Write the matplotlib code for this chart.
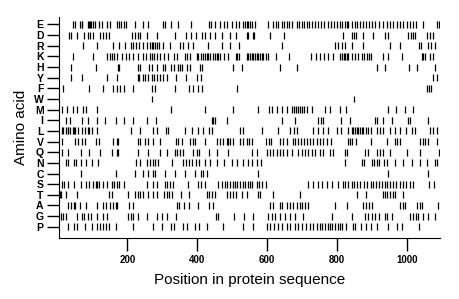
import matplotlib
matplotlib.use("Agg")
import matplotlib.pyplot as plt

plt.rcParams['font.family'] = ['Liberation Sans', 'DejaVu Sans']

# rows from top to bottom
amino_acids = ['E', 'D', 'R', 'K', 'H', 'Y', 'F', 'W', 'M', 'I',
               'L', 'V', 'Q', 'N', 'C', 'S', 'T', 'A', 'G', 'P']

# residue positions of each amino acid
pos_E = [43, 51, 63, 69, 71, 86, 91, 94, 97, 103, 106, 120, 126, 143, 151, 171, 177, 183, 189, 197,
         223, 246, 260, 303, 309, 326, 346, 383, 434, 440, 451, 466, 477, 486, 500, 511, 520, 531,
         537, 543, 546, 551, 557, 566, 603, 617, 626, 631, 643, 649, 657, 663, 671, 686, 691, 700,
         706, 714, 720, 729, 737, 746, 754, 763, 774, 783, 791, 800, 809, 814, 823, 829, 831, 843,
         851, 857, 866, 874, 883, 891, 900, 909, 920, 931, 943, 951, 960, 971, 980, 989, 1000, 1009,
         1017, 1026, 1046, 1086, 1092]
pos_D = [34, 40, 57, 77, 86, 94, 103, 123, 131, 140, 146, 214, 223, 229, 237, 257, 286, 337, 369,
         383, 397, 414, 423, 437, 451, 471, 494, 511, 543, 546, 560, 563, 609, 649, 817, 843, 849,
         854, 874, 903, 937, 946, 1003, 1011, 1017, 1023, 1057, 1066, 1074]
pos_R = [74, 114, 160, 177, 194, 209, 217, 226, 234, 246, 257, 266, 271, 274, 280, 286, 291, 303,
         323, 351, 360, 374, 389, 431, 471, 494, 520, 643, 794, 803, 814, 823, 843, 874, 951, 980,
         1034, 1040, 1060, 1069, 1080]
pos_K = [43, 103, 143, 151, 157, 163, 169, 186, 197, 206, 217, 229, 246, 254, 266, 271, 277, 286,
         294, 306, 317, 334, 343, 366, 371, 380, 400, 403, 411, 417, 423, 429, 431, 437, 446, 451,
         457, 460, 466, 477, 489, 511, 514, 520, 543, 546, 551, 557, 560, 566, 571, 574, 580, 586,
         589, 597, 603, 626, 663, 726, 740, 751, 763, 774, 789, 809, 814, 820, 823, 829, 831, 843,
         851, 860, 871, 877, 886, 891, 897, 931, 946, 986, 1043, 1046, 1051, 1066, 1074]
pos_H = [40, 109, 174, 177, 231, 237, 263, 271, 286, 303, 309, 326, 334, 346, 351, 357, 371, 380,
         409, 414, 503, 529, 637, 686, 914, 937, 1006, 1029, 1080]
pos_Y = [40, 71, 143, 169, 229, 234, 246, 251, 260, 271, 277, 286, 294, 303, 314, 340, 369, 400,
         411, 1074, 1086]
pos_F = [17, 89, 129, 160, 171, 180, 189, 217, 271, 280, 337, 377, 389, 403, 414, 514, 1057, 1063,
         1069]
pos_W = [269, 849]
pos_M = [14, 26, 43, 57, 74, 83, 114, 326, 423, 503, 574, 606, 614, 629, 643, 657, 671, 677, 683,
         689, 694, 700, 706, 714, 729, 766, 780, 809, 826, 946, 969, 994, 1017]
pos_I = [23, 37, 71, 86, 114, 137, 166, 189, 217, 257, 283, 443, 446, 451, 486, 643, 680, 746, 754,
         760, 811, 837, 909, 914, 931, 957, 1003, 1009, 1060]
pos_L = [14, 17, 23, 29, 31, 37, 43, 46, 51, 60, 71, 80, 86, 91, 100, 114, 209, 237, 274, 286, 311,
         317, 366, 386, 403, 417, 434, 443, 523, 531, 586, 631, 666, 677, 686, 731, 746, 760, 774,
         800, 811, 831, 843, 846, 851, 857, 860, 866, 871, 874, 883, 889, 897, 914, 923, 931, 951,
         966, 980, 997, 1014, 1023, 1066, 1074, 1086]
pos_V = [14, 51, 60, 71, 80, 109, 120, 160, 169, 174, 229, 237, 251, 260, 274, 294, 340, 346, 357,
         380, 389, 394, 423, 457, 466, 474, 486, 489, 494, 503, 523, 531, 543, 549, 557, 597, 606,
         611, 637, 646, 657, 674, 680, 689, 697, 706, 714, 723, 731, 743, 751, 760, 771, 783, 831,
         837, 843, 854, 897, 943, 966, 971, 980, 1037, 1046, 1051, 1060, 1086]
pos_Q = [14, 31, 66, 89, 123, 157, 169, 174, 229, 260, 294, 314, 337, 343, 351, 360, 389, 400, 406,
         434, 457, 489, 557, 571, 600, 609, 617, 629, 637, 646, 657, 671, 689, 700, 709, 717, 729,
         737, 751, 760, 780, 789, 823, 829, 880, 889, 914, 923, 931, 951, 1000, 1037, 1091]
pos_N = [23, 31, 46, 54, 66, 83, 100, 117, 226, 237, 257, 266, 274, 280, 289, 329, 360, 369, 377,
         386, 397, 406, 423, 437, 457, 477, 500, 514, 531, 546, 557, 571, 583, 823, 871, 877, 900,
         906, 914, 920, 934, 943, 966, 989, 1014, 1037, 1057, 1080, 1086]
pos_C = [66, 166, 223, 246, 260, 274, 280, 309, 337, 366, 394, 411, 417, 429, 574, 946, 1060]
pos_S = [14, 20, 31, 46, 66, 83, 89, 103, 109, 114, 120, 131, 143, 157, 163, 171, 177, 189, 257,
         274, 286, 309, 314, 323, 331, 374, 403, 411, 423, 460, 471, 480, 486, 494, 503, 509, 514,
         523, 531, 537, 546, 551, 557, 571, 577, 586, 597, 717, 731, 746, 757, 771, 786, 803, 817,
         823, 831, 843, 849, 857, 866, 877, 886, 897, 903, 911, 920, 929, 937, 943, 951, 960, 969,
         980, 989, 997, 1009, 1017, 1063, 1077]
pos_T = [6, 9, 23, 57, 146, 157, 203, 223, 229, 237, 246, 260, 274, 286, 306, 314, 320, 329, 354,
         377, 429, 434, 443, 451, 486, 494, 503, 511, 529, 543, 574, 580, 617, 694, 857, 883, 931,
         937, 943, 951, 960, 966, 989]
pos_A = [29, 40, 46, 51, 63, 83, 114, 129, 140, 151, 160, 166, 171, 206, 217, 343, 349, 363, 377,
         403, 434, 446, 609, 617, 637, 643, 657, 666, 674, 686, 694, 700, 709, 717, 794, 829, 874,
         883, 891, 900, 980, 989, 994, 1029, 1037, 1043, 1089]
pos_G = [11, 17, 23, 57, 71, 77, 86, 97, 114, 129, 143, 203, 211, 217, 229, 257, 286, 300, 314, 340,
         454, 460, 506, 534, 560, 603, 614, 623, 637, 651, 666, 680, 703, 786, 843, 880, 889, 900,
         909, 920, 937, 943, 957, 1009, 1017, 1026, 1031, 1046, 1060, 1080]
pos_P = [31, 46, 57, 80, 100, 114, 123, 131, 140, 146, 166, 217, 274, 300, 326, 334, 360, 371, 394,
         406, 429, 474, 531, 560, 600, 609, 620, 631, 643, 657, 666, 680, 689, 700, 711, 723, 731,
         743, 751, 757, 766, 774, 780, 786, 794, 803, 809, 814, 826, 846, 851, 869, 883, 897, 914,
         946, 971, 986, 1034]

positions = [pos_E, pos_D, pos_R, pos_K, pos_H, pos_Y, pos_F, pos_W, pos_M, pos_I,
             pos_L, pos_V, pos_Q, pos_N, pos_C, pos_S, pos_T, pos_A, pos_G, pos_P]
x_ticks = [200, 400, 600, 800, 1000]

fig = plt.figure(figsize=(4.6, 2.99), dpi=100)
ax = fig.add_axes([0.128, 0.204, 0.829, 0.739])

offsets = list(range(len(amino_acids) - 1, -1, -1))
ax.eventplot(positions, lineoffsets=offsets, linelengths=0.65,
             colors='black', linewidths=0.9)

ax.set_yticks(offsets)
ax.set_yticklabels(amino_acids, fontweight='bold')
ax.set_ylim(-1.06, 19.7)
ax.set_xlim(4, 1095)
ax.set_xticks(x_ticks)
ax.set_xticklabels([str(t) for t in x_ticks], fontweight='bold')

ax.spines['top'].set_visible(False)
ax.spines['right'].set_visible(False)
ax.tick_params(axis='y', length=9, width=1, labelsize=7.5, pad=2)
ax.tick_params(axis='x', length=9, width=1, labelsize=7, pad=3)
ax.set_xlabel('Position in protein sequence', fontsize=11, labelpad=6)
ax.set_ylabel('Amino acid', fontsize=11, labelpad=4)

fig.savefig('out.png', dpi=100)
